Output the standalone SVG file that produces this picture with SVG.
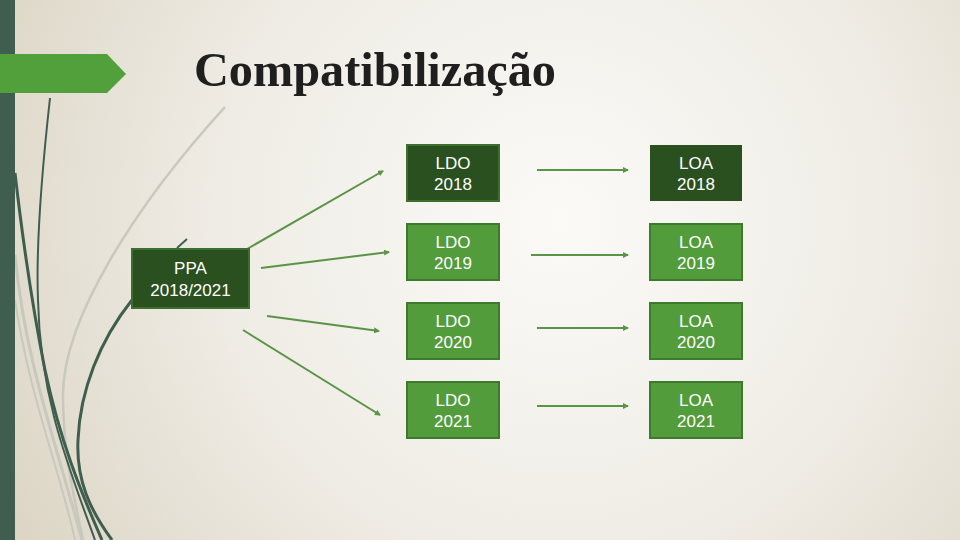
<svg xmlns="http://www.w3.org/2000/svg" width="960" height="540" viewBox="0 0 960 540">
<defs>
<radialGradient id="bg" cx="560" cy="220" r="620" gradientUnits="userSpaceOnUse">
<stop offset="0" stop-color="#fbfaf7"/>
<stop offset="0.55" stop-color="#efece5"/>
<stop offset="1" stop-color="#ddd6c6"/>
</radialGradient>
<marker id="ah" viewBox="0 0 6 6" refX="5" refY="3" markerWidth="3" markerHeight="3" orient="auto" markerUnits="strokeWidth">
<path d="M0,0 L6,3 L0,6 Z" fill="#5a9446"/>
</marker>
<style>
.dk{fill:#2b5020;stroke:#3d6e2e;stroke-width:2}
.lt{fill:#529c3b;stroke:#3e7a2d;stroke-width:2}
.t{font-family:"Liberation Sans",Arial,sans-serif;font-size:17px;fill:#ffffff;text-anchor:middle}
.c{fill:none;stroke:#5a9446;stroke-width:2;marker-end:url(#ah)}
.dc{fill:none;stroke:#3f5e4f}
.gc{fill:none;stroke:#c8c8bd}
</style>
</defs>
<rect width="960" height="540" fill="url(#bg)"/>
<g id="decor">
<path class="gc" stroke-width="2.5" d="M225,107 C140,200 60,320 63,400 C64,460 75,500 83,540"/>
<path class="gc" stroke-width="3" d="M15,255 C25,360 55,440 82,540"/>
<path class="gc" stroke-width="2" d="M15,300 C30,400 60,470 75,540"/>
<path class="dc" stroke-width="2" d="M50,98 C42,170 36,250 38,300 C40,400 70,470 95,540"/>
<path class="dc" stroke-width="3" d="M15,173 C25,260 35,320 45,370 C60,440 80,490 102,540"/>
<path class="dc" stroke-width="3" d="M132,300 C100,340 80,390 78,440 C76,480 90,510 112,540"/>
<path class="dc" stroke-width="2" d="M177,248 L187,239"/>
</g>
<rect x="0" y="0" width="15" height="540" fill="#3f5e4f"/>
<path d="M0,54 L107,54 L126,74 L107,93 L0,93 Z" fill="#52a03c"/>
<text x="194" y="86" font-family="'Liberation Serif','Times New Roman',serif" font-weight="bold" font-size="49" fill="#1f1f1f" textLength="362" lengthAdjust="spacingAndGlyphs">Compatibilização</text>
<g id="connectors">
<line class="c" x1="247" y1="249" x2="383" y2="171"/>
<line class="c" x1="261" y1="268" x2="389" y2="252"/>
<line class="c" x1="267" y1="316" x2="379" y2="331"/>
<line class="c" x1="243" y1="330" x2="380" y2="415"/>
<line class="c" x1="537" y1="170" x2="628" y2="170"/>
<line class="c" x1="531" y1="255" x2="628" y2="255"/>
<line class="c" x1="537" y1="328" x2="628" y2="328"/>
<line class="c" x1="537" y1="406" x2="628" y2="406"/>
</g>
<g id="ppa">
<rect class="dk" x="132" y="249" width="117" height="59"/>
<text class="t" x="190.5" y="274">PPA</text>
<text class="t" x="190.5" y="296">2018/2021</text>
</g>
<g id="ldo2018">
<rect class="dk" x="407" y="145" width="92" height="56"/>
<text class="t" x="453" y="169">LDO</text>
<text class="t" x="453" y="190">2018</text>
</g>
<g id="ldo2019">
<rect class="lt" x="407" y="224" width="92" height="56"/>
<text class="t" x="453" y="248">LDO</text>
<text class="t" x="453" y="269">2019</text>
</g>
<g id="ldo2020">
<rect class="lt" x="407" y="303" width="92" height="56"/>
<text class="t" x="453" y="327">LDO</text>
<text class="t" x="453" y="348">2020</text>
</g>
<g id="ldo2021">
<rect class="lt" x="407" y="382" width="92" height="56"/>
<text class="t" x="453" y="406">LDO</text>
<text class="t" x="453" y="427">2021</text>
</g>
<g id="loa2018">
<rect x="650" y="145" width="92" height="56" fill="#2b5020"/>
<text class="t" x="696" y="169">LOA</text>
<text class="t" x="696" y="190">2018</text>
</g>
<g id="loa2019">
<rect class="lt" x="650" y="224" width="92" height="56"/>
<text class="t" x="696" y="248">LOA</text>
<text class="t" x="696" y="269">2019</text>
</g>
<g id="loa2020">
<rect class="lt" x="650" y="303" width="92" height="56"/>
<text class="t" x="696" y="327">LOA</text>
<text class="t" x="696" y="348">2020</text>
</g>
<g id="loa2021">
<rect class="lt" x="650" y="382" width="92" height="56"/>
<text class="t" x="696" y="406">LOA</text>
<text class="t" x="696" y="427">2021</text>
</g>
</svg>
